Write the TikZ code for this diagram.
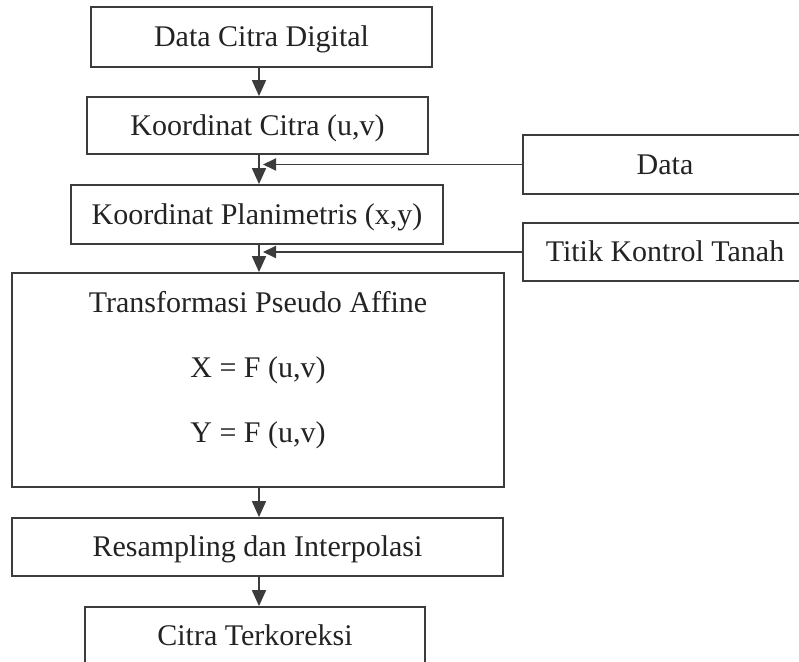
\documentclass[tikz,border=0pt]{standalone}
\usepackage{fontspec}
\setmainfont{Liberation Serif}
\usepackage{tikz}
\usetikzlibrary{arrows.meta}
\definecolor{garis}{RGB}{60,60,60}
\definecolor{tulisan}{RGB}{35,35,35}

\begin{document}
\begin{tikzpicture}[x=0.5pt,y=-0.5pt]
	\clip (0,0) rectangle (799,662);
	\begin{scope}[every node/.style={draw=garis,line width=0.9pt,inner sep=0pt,text=tulisan,
			font=\fontsize{15}{18}\selectfont,text height=9.9pt,text depth=0pt}]
		\node[minimum width=170.5pt,minimum height=30pt] (digital) at (261.5,37) {Data Citra Digital};
		\node[minimum width=170.5pt,minimum height=28.5pt] (citra) at (257.5,125.5) {Koordinat Citra (u,v)};
		\node[minimum width=186pt,minimum height=29.5pt] (planimetris) at (257,214.5) {Koordinat Planimetris (x,y)};
		\node[minimum width=246pt,minimum height=107pt] (affine) at (258,380) {};
		\node[minimum width=245.5pt,minimum height=29pt] (resampling) at (257.5,547) {Resampling dan Interpolasi};
		\node[minimum width=170pt,minimum height=29pt] (koreksi) at (255,636) {Citra Terkoreksi};
		\node[minimum width=142pt,minimum height=29.5pt] (data) at (665,164.5) {Data};
		\node[minimum width=142pt,minimum height=29pt] (tkt) at (665,252) {Titik Kontrol Tanah};
	\end{scope}
	\node[align=center,text=tulisan,font=\fontsize{15}{32.5}\selectfont] (rumus) at (258,370)
		{Transformasi Pseudo Affine\\X = F (u,v)\\Y = F (u,v)};
	\coordinate (sumbu) at (259,0);
	\coordinate (ujung) at (263,0);
	\begin{scope}[>={Triangle[length=8pt,width=7pt]},
			every edge/.style={draw=garis,line width=0.9pt,->}]
		\path (digital.south -| sumbu) edge (citra.north -| sumbu);
		\path (citra.south -| sumbu) edge (planimetris.north -| sumbu);
		\path (planimetris.south -| sumbu) edge (affine.north -| sumbu);
		\path (affine.south -| sumbu) edge (resampling.north -| sumbu);
		\path (resampling.south -| sumbu) edge (koreksi.north -| sumbu);
	\end{scope}
	\begin{scope}[>={Triangle[length=6.5pt,width=6pt]},
			every edge/.style={draw=garis,line width=0.9pt,->}]
		\path (data.west) edge (data.west -| ujung);
		\path (tkt.west) edge (tkt.west -| ujung);
	\end{scope}
\end{tikzpicture}
\end{document}
